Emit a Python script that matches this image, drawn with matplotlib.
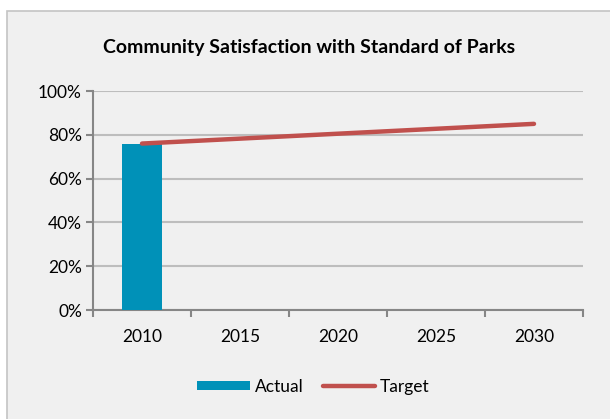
import matplotlib.pyplot as plt
from matplotlib.patches import Rectangle
from matplotlib.ticker import PercentFormatter
import numpy as np

years = ['2010', '2015', '2020', '2025', '2030']
actual = [0.76, np.nan, np.nan, np.nan, np.nan]
target = [0.76, 0.7825, 0.805, 0.8275, 0.85]

plt.rcParams['font.family'] = ['Lato', 'DejaVu Sans']

fig = plt.figure(figsize=(6.10, 4.19), dpi=100)
fig.patch.set_facecolor('white')

# grey chart frame
fig.patches.append(Rectangle((7 / 610, -0.01), 1.0, 0.974 + 0.01, transform=fig.transFigure,
                             facecolor='#f0f0f0', edgecolor='#c4c4c4', linewidth=1.2, zorder=-5))

ax = fig.add_axes([93 / 610, 1 - 310 / 419, 490 / 610, 219 / 419])
ax.set_facecolor('none')

x = np.arange(len(years))
bars = ax.bar(x, actual, width=0.41, color='#0091b8', label='Actual', zorder=3)
line, = ax.plot(x, target, color='#c0504d', linewidth=3.2, solid_capstyle='round',
                label='Target', zorder=4)

ax.set_xlim(-0.5, len(years) - 0.5)
ax.set_ylim(0, 1)
ax.set_yticks(np.arange(0, 1.01, 0.2))
ax.yaxis.set_major_formatter(PercentFormatter(1.0, decimals=0))
ax.grid(axis='y', color='#bdbdbd', linewidth=1.5, zorder=1)

# category boundaries as major ticks, labels on minor ticks
ax.set_xticks(np.arange(-0.5, len(years), 1.0))
ax.set_xticklabels([])
ax.set_xticks(x, minor=True)
ax.set_xticklabels(years, minor=True)
ax.tick_params(axis='x', which='major', length=5, color='#868686', width=1.5)
ax.tick_params(axis='x', which='minor', length=0, pad=14, labelsize=12.5)
ax.tick_params(axis='y', length=5, color='#868686', width=1.5, labelsize=12.5, pad=3)

for s in ['top', 'right']:
    ax.spines[s].set_visible(False)
for s in ['left', 'bottom']:
    ax.spines[s].set_color('#868686')
    ax.spines[s].set_linewidth(1.5)

fig.text(0.506, 1 - 47 / 419, 'Community Satisfaction with Standard of Parks',
         ha='center', va='center', fontsize=14, fontweight='bold')

ax.legend([bars, line], ['Actual', 'Target'], loc='center', bbox_to_anchor=(0.45, -0.35),
          ncol=2, frameon=False, fontsize=12.5, handlelength=3.0, handleheight=0.5,
          handletextpad=0.3, columnspacing=1.1)

fig.savefig('out.png', dpi=100)
